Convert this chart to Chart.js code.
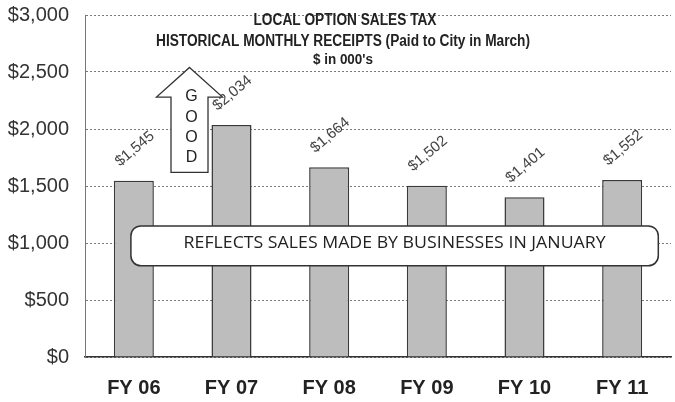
<!DOCTYPE html>
<html>
<head>
<meta charset="utf-8">
<script src="https://cdn.jsdelivr.net/npm/chart.js@4/dist/chart.umd.min.js"></script>
<style>
html,body{margin:0;padding:0;background:#fff;}
#wrap{width:675px;height:402px;position:relative;}
</style>
</head>
<body>
<div id="wrap"><canvas id="c" width="675" height="402"></canvas></div>
<script>
const categories = ["FY 06", "FY 07", "FY 08", "FY 09", "FY 10", "FY 11"];
const receipts = [1545, 2034, 1664, 1502, 1401, 1552];
const valueLabels = ["$1,545", "$2,034", "$1,664", "$1,502", "$1,401", "$1,552"];
const yTickValues = [0, 500, 1000, 1500, 2000, 2500, 3000];
const titleLines = ["LOCAL OPTION SALES TAX", "HISTORICAL MONTHLY RECEIPTS (Paid to City in March)", "$ in 000's"];
const noteText = "REFLECTS SALES MADE BY BUSINESSES IN JANUARY";
const arrowLetters = ["G", "O", "O", "D"];

function fitText(ctx, text, x, y, targetW, font) {
  ctx.font = font;
  const w = ctx.measureText(text).width;
  const sx = targetW / w;
  ctx.save();
  ctx.translate(x, y);
  ctx.scale(sx, 1);
  ctx.textAlign = 'center';
  ctx.textBaseline = 'middle';
  ctx.fillText(text, 0, 0);
  ctx.restore();
}

const decor = {
  id: 'decor',
  afterDatasetsDraw(chart) {
    const ctx = chart.ctx;
    const xs = chart.scales.x, ys = chart.scales.y;
    const meta = chart.getDatasetMeta(0);
    // value labels rotated
    ctx.save();
    ctx.fillStyle = '#444';
    ctx.font = '15px "Liberation Sans", Arial, sans-serif';
    meta.data.forEach((bar, i) => {
      ctx.save();
      ctx.translate(bar.x + 1, bar.y - 32);
      ctx.rotate(-40 * Math.PI / 180);
      ctx.textAlign = 'center';
      ctx.textBaseline = 'middle';
      ctx.fillText(valueLabels[i], 0, 0);
      ctx.restore();
    });
    ctx.restore();

    // Title
    ctx.save();
    ctx.fillStyle = '#222';
    const cx = (xs.left + xs.right) / 2 - 34;
    fitText(ctx, titleLines[0], cx + 1, ys.getPixelForValue(2955), 183, 'bold 16px "Liberation Sans", Arial, sans-serif');
    fitText(ctx, titleLines[1], cx - 1, ys.getPixelForValue(2765), 374, 'bold 16px "Liberation Sans", Arial, sans-serif');
    fitText(ctx, titleLines[2], cx - 1, ys.getPixelForValue(2605), 60, 'bold 14px "Liberation Sans", Arial, sans-serif');
    ctx.restore();

    // GOOD arrow
    const ax = xs.getPixelForValue(0.57);
    const tipY = ys.getPixelForValue(2540);
    const headY = ys.getPixelForValue(2280);
    const botY = ys.getPixelForValue(1620);
    const hw = 33, sw = 18.5;
    ctx.save();
    ctx.beginPath();
    ctx.moveTo(ax, tipY);
    ctx.lineTo(ax + hw, headY);
    ctx.lineTo(ax + sw, headY);
    ctx.lineTo(ax + sw, botY);
    ctx.lineTo(ax - sw, botY);
    ctx.lineTo(ax - sw, headY);
    ctx.lineTo(ax - hw, headY);
    ctx.closePath();
    ctx.fillStyle = '#fff';
    ctx.fill();
    ctx.strokeStyle = '#333';
    ctx.lineWidth = 1.3;
    ctx.stroke();
    ctx.fillStyle = '#222';
    ctx.font = '16px "Liberation Sans", Arial, sans-serif';
    ctx.textAlign = 'center';
    ctx.textBaseline = 'middle';
    arrowLetters.forEach((l, i) => {
      ctx.fillText(l, ax + 2, ys.getPixelForValue(2280 - i * 176));
    });
    ctx.restore();

    // Note box
    const bx0 = xs.getPixelForValue(-0.03);
    const bx1 = xs.getPixelForValue(5.37);
    const by0 = ys.getPixelForValue(1150);
    const by1 = ys.getPixelForValue(800);
    ctx.save();
    ctx.beginPath();
    ctx.roundRect(bx0, by0, bx1 - bx0, by1 - by0, 10);
    ctx.fillStyle = '#fff';
    ctx.fill();
    ctx.strokeStyle = '#333';
    ctx.lineWidth = 1.5;
    ctx.stroke();
    ctx.fillStyle = '#222';
    fitText(ctx, noteText, (bx0 + bx1) / 2, by0 + 17, 422, '17px "Open Sans", Lato, sans-serif');
    ctx.restore();
  }
};

new Chart(document.getElementById('c'), {
  type: 'bar',
  data: {
    labels: categories,
    datasets: [{
      data: receipts,
      backgroundColor: '#bdbdbd',
      borderColor: '#3a3a3a',
      borderWidth: 1.5,
      categoryPercentage: 1,
      barPercentage: 0.41
    }]
  },
  options: {
    responsive: false,
    animation: false,
    devicePixelRatio: 1,
    layout: { padding: { top: 15, right: 4, left: 0, bottom: 0 } },
    plugins: { legend: { display: false }, tooltip: { enabled: false }, title: { display: false } },
    scales: {
      x: {
        grid: { display: false, drawTicks: false },
        border: { display: true, color: '#333', width: 1.5 },
        ticks: { color: '#222', padding: 19, font: { family: '"Liberation Sans", Arial, sans-serif', size: 20, weight: 'bold' } },
        afterFit(s) { s.height = 45; s.paddingLeft = 0; s.paddingRight = 0; }
      },
      y: {
        min: 0, max: 3000,
        afterBuildTicks(s) { s.ticks = yTickValues.map(v => ({ value: v })); },
        grid: { color: '#7a7a7a', lineWidth: 1, drawTicks: false },
        border: { display: true, color: '#777', width: 1, dash: [2, 2] },
        ticks: {
          color: '#333', padding: 16,
          font: { family: '"Liberation Sans", Arial, sans-serif', size: 20 },
          callback: v => '$' + v.toLocaleString('en-US')
        },
        afterFit(s) { s.width = 85; s.paddingTop = 0; s.paddingBottom = 0; }
      }
    }
  },
  plugins: [decor]
});
</script>
</body>
</html>
